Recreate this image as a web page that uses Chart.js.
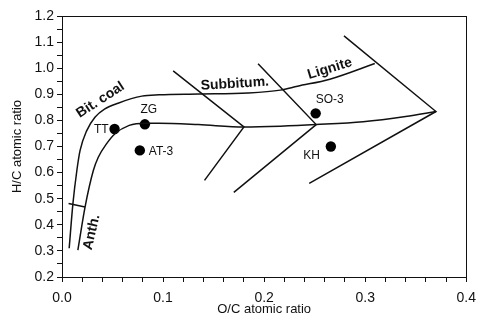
<!DOCTYPE html>
<html>
<head>
<meta charset="utf-8">
<script src="https://cdn.jsdelivr.net/npm/chart.js@4.4.1/dist/chart.umd.min.js"></script>
<style>
  html, body { margin: 0; padding: 0; background: #fff; }
  #wrap { width: 484px; height: 321px; }
</style>
</head>
<body>
<div id="wrap"><canvas id="grafico" width="484" height="321"></canvas></div>
<script>
// amostras (O/C, H/C)
const amostras = ['TT', 'ZG', 'AT-3', 'SO-3', 'KH'];
const amostrasOC = [0.052, 0.082, 0.077, 0.251, 0.266];
const amostrasHC = [0.767, 0.785, 0.685, 0.827, 0.700];

// curva superior (limite externo)
const curvaExtOC = [0.0071, 0.0108, 0.0147, 0.0179, 0.0245, 0.0326, 0.0424, 0.0555, 0.079, 0.096, 0.135, 0.184, 0.216, 0.233, 0.265, 0.3095];
const curvaExtHC = [0.310, 0.481, 0.608, 0.685, 0.761, 0.812, 0.844, 0.866, 0.893, 0.898, 0.901, 0.905, 0.916, 0.931, 0.958, 1.018];

// curva inferior (limite interno)
const curvaIntOC = [0.0157, 0.0228, 0.031, 0.0359, 0.044, 0.0522, 0.0665, 0.0829, 0.096, 0.135, 0.180, 0.216, 0.2515, 0.298, 0.340, 0.370];
const curvaIntHC = [0.303, 0.468, 0.608, 0.659, 0.710, 0.748, 0.781, 0.789, 0.789, 0.784, 0.775, 0.778, 0.784, 0.795, 0.815, 0.834];

// linhas retas que separam as classes
const divisaoSubOC = [0.110, 0.180, 0.141];
const divisaoSubHC = [0.990, 0.775, 0.570];
const divisaoLigOC = [0.194, 0.2515, 0.170];
const divisaoLigHC = [1.017, 0.784, 0.524];
const divisaoTurfaOC = [0.279, 0.370, 0.2446];
const divisaoTurfaHC = [1.124, 0.834, 0.559];
const traçoAntOC = [0.0065, 0.0228];
const traçoAntHC = [0.482, 0.468];

// rótulos das classes
const classes = ['Bit. coal', 'Subbitum.', 'Lignite', 'Anth.'];
const classesOC = [0.038, 0.171, 0.265, 0.0295];
const classesHC = [0.878, 0.940, 0.998, 0.372];
const classesRot = [-33, -3.5, -17, -77];

// eixos
const ticksOC = [0.0, 0.1, 0.2, 0.3, 0.4];
const ticksHC = [0.2, 0.3, 0.4, 0.5, 0.6, 0.7, 0.8, 0.9, 1.0, 1.1, 1.2];

const junta = (xs, ys) => xs.map((x, i) => ({ x: x, y: ys[i] }));
const ehMaior = (v, lista) => lista.some(t => Math.abs(t - v) < 1e-6);

function linha(xs, ys, suave) {
  return {
    type: 'line', data: junta(xs, ys), showLine: true, pointRadius: 0,
    borderColor: '#111', borderWidth: 1.5, fill: false,
    cubicInterpolationMode: suave ? 'monotone' : 'default', tension: 0
  };
}

// posição dos nomes em relação ao ponto (pixels)
const deslocNomes = {
  'TT':   { dx: -6, dy: 1, align: 'right' },
  'ZG':   { dx: 4, dy: -15, align: 'center' },
  'AT-3': { dx: 9, dy: 1, align: 'left' },
  'SO-3': { dx: 0, dy: -14, align: 'left' },
  'KH':   { dx: -11, dy: 9, align: 'right' }
};

const pluginTextos = {
  id: 'textos',
  afterDatasetsDraw(chart) {
    const ctx = chart.ctx, sx = chart.scales.x, sy = chart.scales.y;
    ctx.save();
    ctx.fillStyle = '#111';
    ctx.textBaseline = 'middle';
    ctx.font = '12px Arial, "Liberation Sans", sans-serif';
    amostras.forEach((nome, i) => {
      const d = deslocNomes[nome];
      ctx.textAlign = d.align;
      ctx.fillText(nome, sx.getPixelForValue(amostrasOC[i]) + d.dx, sy.getPixelForValue(amostrasHC[i]) + d.dy);
    });
    ctx.font = 'bold 14px Arial, "Liberation Sans", sans-serif';
    ctx.textAlign = 'center';
    classes.forEach((nome, i) => {
      ctx.save();
      ctx.translate(sx.getPixelForValue(classesOC[i]), sy.getPixelForValue(classesHC[i]));
      ctx.rotate(classesRot[i] * Math.PI / 180);
      ctx.fillText(nome, 0, 0);
      ctx.restore();
    });
    // moldura
    const a = chart.chartArea;
    ctx.strokeStyle = '#111';
    ctx.lineWidth = 1;
    ctx.strokeRect(Math.round(a.left) + 0.5, Math.round(a.top) + 0.5, Math.round(a.right - a.left), Math.round(a.bottom - a.top));
    ctx.restore();
  }
};

document.addEventListener('DOMContentLoaded', function () {
  const contexto = document.getElementById('grafico').getContext('2d');
  window.graficoVanKrevelen = new Chart(contexto, {
    type: 'scatter',
    plugins: [pluginTextos],
    data: {
      datasets: [
        linha(curvaExtOC, curvaExtHC, true),
        linha(curvaIntOC, curvaIntHC, true),
        linha(divisaoSubOC, divisaoSubHC, false),
        linha(divisaoLigOC, divisaoLigHC, false),
        linha(divisaoTurfaOC, divisaoTurfaHC, false),
        linha(traçoAntOC, traçoAntHC, false),
        { label: 'Amostras', data: junta(amostrasOC, amostrasHC), pointRadius: 5.2, pointBackgroundColor: '#000', pointBorderColor: '#000', pointBorderWidth: 0 }
      ]
    },
    options: {
      responsive: false, animation: false,
      layout: { padding: { top: 16, right: 13, left: 0, bottom: 0 } },
      plugins: { legend: { display: false }, tooltip: { enabled: false } },
      scales: {
        x: {
          type: 'linear', min: 0, max: 0.4,
          afterFit: (s) => { s.height = 44; },
          grid: { drawOnChartArea: false, drawTicks: true, tickLength: 5, color: '#111' },
          border: { color: '#111', width: 1 },
          ticks: {
            stepSize: 0.02, autoSkip: false, maxRotation: 0, padding: 8, color: '#111',
            font: { family: 'Arial, "Liberation Sans", sans-serif', size: 14 },
            callback: (v) => ehMaior(v, ticksOC) ? v.toFixed(1) : ''
          },
          title: { display: true, text: 'O/C atomic ratio', color: '#111', padding: { top: 0, bottom: 4 },
            font: { family: 'Arial, "Liberation Sans", sans-serif', size: 13 } }
        },
        y: {
          type: 'linear', min: 0.2, max: 1.2,
          afterFit: (s) => { s.width = 62; },
          grid: { drawOnChartArea: false, drawTicks: true, tickLength: 5, color: '#111' },
          border: { color: '#111', width: 1 },
          ticks: {
            stepSize: 0.05, autoSkip: false, padding: 3, color: '#111',
            font: { family: 'Arial, "Liberation Sans", sans-serif', size: 14 },
            callback: (v) => ehMaior(v, ticksHC) ? v.toFixed(1) : ''
          },
          title: { display: true, text: 'H/C atomic ratio', color: '#111', padding: { top: 10, bottom: 0 },
            font: { family: 'Arial, "Liberation Sans", sans-serif', size: 13 } }
        }
      }
    }
  });
});
</script>
</body>
</html>
